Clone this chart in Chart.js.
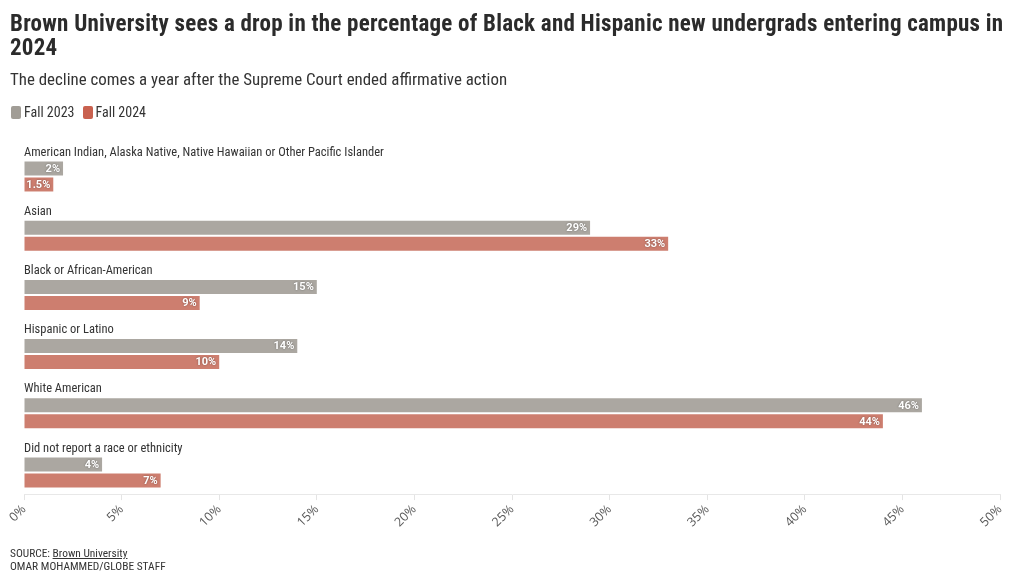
<!DOCTYPE html>
<html>
<head>
<meta charset="utf-8">
<script src="https://cdn.jsdelivr.net/npm/chart.js@4"></script>
<style>
  html, body { margin: 0; padding: 0; background: #fff; }
  body { width: 1020px; height: 585px; position: relative; overflow: hidden;
         font-family: "Roboto Condensed", "Liberation Sans Narrow", "DejaVu Sans Condensed", "DejaVu Sans", sans-serif; color: #333; }
  #wrap { position: absolute; left: 0; top: 0; width: 1020px; height: 585px; }
  .t { position: absolute; white-space: nowrap; }
  #title { left: 10px; top: 12px; font-size: 23px; font-weight: bold; line-height: 24px; letter-spacing: 0.23px; color: #2b2b2b; }
  #sub { left: 10px; top: 69px; font-size: 16.9px; line-height: 20px; color: #333; }
  #legend { left: 11px; top: 104px; font-size: 14px; line-height: 17px; color: #333; }
  #legend span.sw { display: inline-block; width: 10px; height: 13px; border-radius: 2px; vertical-align: -2px; margin-right: 3px; }
  #legend span.it { margin-right: 8px; }
  #foot { left: 10px; top: 547px; font-size: 11.4px; line-height: 13px; color: #333; }
  #foot u { text-decoration: underline; }
</style>
</head>
<body>
<div id="wrap"><canvas id="c" width="1020" height="585"></canvas></div>
<div class="t" id="title">Brown University sees a drop in the percentage of Black and Hispanic new undergrads entering campus in<br>2024</div>
<div class="t" id="sub">The decline comes a year after the Supreme Court ended affirmative action</div>
<div class="t" id="legend"><span class="sw" style="background:#a19d96"></span><span class="it">Fall 2023</span><span class="sw" style="background:#c9614f"></span><span class="it">Fall 2024</span></div>
<div class="t" id="foot">SOURCE: <u>Brown University</u><br>OMAR MOHAMMED/GLOBE STAFF</div>
<script>
const categories = [
  "American Indian, Alaska Native, Native Hawaiian or Other Pacific Islander",
  "Asian",
  "Black or African-American",
  "Hispanic or Latino",
  "White American",
  "Did not report a race or ethnicity"
];
const seriesNames = ["Fall 2023", "Fall 2024"];
const fall2023 = [2, 29, 15, 14, 46, 4];
const fall2024 = [1.5, 33, 9, 10, 44, 7];
const xTicks = [0, 5, 10, 15, 20, 25, 30, 35, 40, 45, 50];

const COND = '"Roboto Condensed", "Liberation Sans Narrow", "DejaVu Sans Condensed", "DejaVu Sans", sans-serif';

const labelPlugin = {
  id: 'catLabels',
  afterDatasetsDraw(chart) {
    const ctx = chart.ctx;
    const area = chart.chartArea;
    ctx.save();
    const meta0 = chart.getDatasetMeta(0);
    ctx.font = '12.5px ' + COND;
    ctx.fillStyle = '#333';
    ctx.textAlign = 'left';
    ctx.textBaseline = 'middle';
    categories.forEach((c, i) => {
      const el = meta0.data[i];
      ctx.fillText(c, area.left, el.y);
    });
    ctx.font = 'bold 11px Roboto, "Open Sans", sans-serif';
    ctx.textAlign = 'right';
    [1, 2].forEach(di => {
      const meta = chart.getDatasetMeta(di);
      const vals = chart.data.datasets[di].data;
      meta.data.forEach((el, i) => {
        ctx.shadowColor = 'rgba(0,0,0,0.4)';
        ctx.shadowBlur = 2;
        ctx.fillStyle = '#fff';
        ctx.fillText(vals[i] + '%', el.x - 3, el.y + 0.5);
      });
    });
    ctx.restore();
  }
};

const pad = { left: 24, right: 20, top: 139, bottom: 40 };

const chart = new Chart(document.getElementById('c'), {
  type: 'bar',
  data: {
    labels: categories,
    datasets: [
      { label: '', data: categories.map(() => null), backgroundColor: 'rgba(0,0,0,0)' },
      { label: seriesNames[0], data: fall2023, backgroundColor: '#aba7a1', borderWidth: 0 },
      { label: seriesNames[1], data: fall2024, backgroundColor: '#cd7e6f', borderWidth: 0 }
    ]
  },
  options: {
    indexAxis: 'y',
    responsive: false,
    animation: false,
    layout: { padding: pad },
    datasets: { bar: { categoryPercentage: 0.81, barPercentage: 0.875 } },
    plugins: { legend: { display: false }, tooltip: { enabled: false }, title: { display: false } },
    scales: {
      y: { display: false, offset: true },
      x: {
        min: 0, max: 50,
        afterBuildTicks(scale) { scale.ticks = xTicks.map(v => ({ value: v })); },
        grid: { drawOnChartArea: false, drawTicks: true, tickLength: 6, color: '#e4e4e4' },
        border: { display: true, color: '#e8e8e8' },
        ticks: {
          minRotation: 45, maxRotation: 45, padding: 2,
          color: '#5a5a5a',
          font: { family: '"Open Sans", "Noto Sans", sans-serif', size: 12.5 },
          callback: v => v + '%'
        }
      }
    }
  },
  plugins: [labelPlugin]
});

for (let k = 0; k < 3; k++) {
  const ca = chart.chartArea;
  pad.left += 24 - ca.left;
  pad.right += ca.right - 1000;
  pad.top += 138.9 - ca.top;
  pad.bottom += ca.bottom - 494.1;
  chart.options.layout.padding = { ...pad };
  chart.update('none');
}
</script>
</body>
</html>
